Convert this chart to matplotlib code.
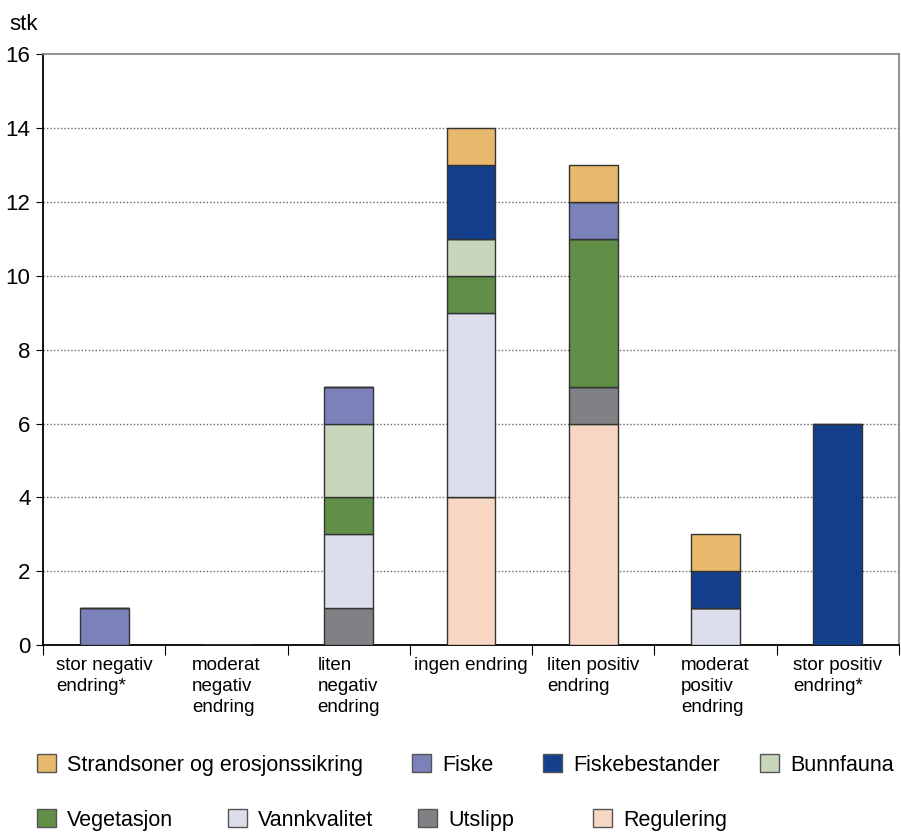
import matplotlib.pyplot as plt
import numpy as np
from matplotlib.patches import Patch

plt.rcParams["font.family"] = ["Liberation Sans", "DejaVu Sans"]

categories = [
    "stor negativ\nendring*",
    "moderat\nnegativ\nendring",
    "liten\nnegativ\nendring",
    "ingen endring",
    "liten positiv\nendring",
    "moderat\npositiv\nendring",
    "stor positiv\nendring*",
]

# stacked bottom -> top
regulering = [0, 0, 0, 4, 6, 0, 0]
utslipp = [0, 0, 1, 0, 1, 0, 0]
vannkvalitet = [0, 0, 2, 5, 0, 1, 0]
vegetasjon = [0, 0, 1, 1, 4, 0, 0]
bunnfauna = [0, 0, 2, 1, 0, 0, 0]
fiske = [1, 0, 1, 0, 1, 0, 0]
fiskebestander = [0, 0, 0, 2, 0, 1, 6]
strandsoner = [0, 0, 0, 1, 1, 1, 0]

series = [
    ("Regulering", regulering, "#F7D7C3"),
    ("Utslipp", utslipp, "#808184"),
    ("Vannkvalitet", vannkvalitet, "#DCDEEC"),
    ("Vegetasjon", vegetasjon, "#618F47"),
    ("Bunnfauna", bunnfauna, "#C8D7BC"),
    ("Fiske", fiske, "#7B82BA"),
    ("Fiskebestander", fiskebestander, "#143F8C"),
    ("Strandsoner og erosjonssikring", strandsoner, "#E8B86D"),
]

fig = plt.figure(figsize=(9.01, 8.33), dpi=100)
ax = fig.add_axes([0.0477, 0.2257, 0.9501, 0.7089])

x = np.arange(len(categories))
bottom = np.zeros(len(categories))
for name, vals, color in series:
    vals = np.array(vals, dtype=float)
    ax.bar(x, vals, 0.4, bottom=bottom, color=color, edgecolor="#333333",
           linewidth=1.0, zorder=3)
    bottom += vals

ax.set_xlim(-0.5, len(categories) - 0.5)
ax.set_ylim(0, 16)
ax.set_yticks(range(0, 17, 2))
ax.tick_params(axis="y", labelsize=16, length=5, pad=4, direction="out")

# x ticks at category boundaries, labels centered in categories
ax.set_xticks(np.arange(len(categories) + 1) - 0.5)
ax.set_xticklabels([])
ax.tick_params(axis="x", length=7, direction="out")
for i, lab in enumerate(categories):
    ax.text(i, -0.33, lab, ha="center", va="top", multialignment="left",
            fontsize=13.5, linespacing=1.3)

for yv in range(2, 16, 2):
    ax.axhline(yv, color="#666666", linewidth=1.0, linestyle=(0, (1, 1.5)),
               zorder=1)

ax.spines["left"].set_color("black")
ax.spines["bottom"].set_color("black")
ax.spines["top"].set_color("#888888")
ax.spines["right"].set_color("#888888")
for s in ax.spines.values():
    s.set_linewidth(1.3)

fig.text(9 / 901, 1 - 25 / 833, "stk", fontsize=16, va="center", ha="left")

# legend items placed individually
legend_pos = [
    ("Strandsoner og erosjonssikring", 37, 765),
    ("Fiske", 412, 765),
    ("Fiskebestander", 543, 765),
    ("Bunnfauna", 760, 765),
    ("Vegetasjon", 37, 820),
    ("Vannkvalitet", 228, 820),
    ("Utslipp", 418, 820),
    ("Regulering", 593, 820),
]
colors = {name: color for name, _, color in series}
for name, px, py in legend_pos:
    h = Patch(facecolor=colors[name], edgecolor="#555555", linewidth=1.0)
    fig.legend(handles=[h], labels=[name], loc="center left",
               bbox_to_anchor=(px / 901, 1 - py / 833), frameon=False,
               borderpad=0, borderaxespad=0, handlelength=0.9,
               handleheight=0.85, handletextpad=0.5, fontsize=15.5)

fig.savefig("out.png", dpi=100)
